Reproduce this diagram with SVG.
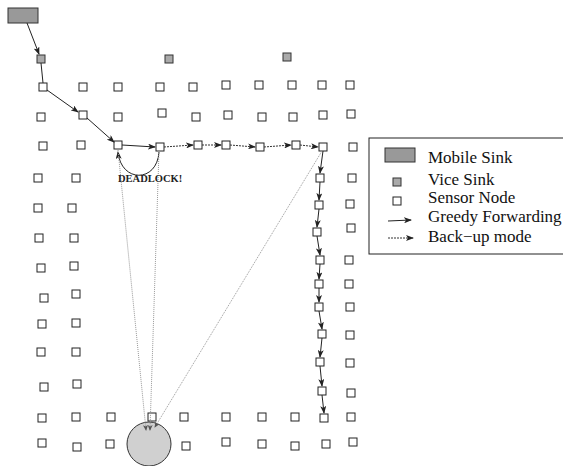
<svg xmlns="http://www.w3.org/2000/svg" width="563" height="466" viewBox="0 0 563 466">
<style>
.n{fill:#fff;stroke:#222;stroke-width:1}
.v{fill:#aaa;stroke:#333;stroke-width:1}
.g{stroke:#222;stroke-width:1;fill:none;marker-end:url(#ah)}
.b{stroke:#333;stroke-width:1;fill:none;stroke-dasharray:2 1;marker-end:url(#ah)}
.d{stroke:#999;stroke-width:1;fill:none;stroke-dasharray:1 1;marker-end:url(#ahs)}
.t{font-family:"Liberation Serif","Times New Roman",serif;font-size:17px;fill:#111}
</style>
<defs>
<marker id="ah" markerWidth="8" markerHeight="6" refX="7" refY="3" orient="auto" markerUnits="userSpaceOnUse">
<path d="M0,0 L8,3 L0,6 L2,3 z" fill="#222"/>
</marker>
<marker id="ahs" markerWidth="6" markerHeight="5" refX="5" refY="2.5" orient="auto" markerUnits="userSpaceOnUse">
<path d="M0,0 L6,2.5 L0,5 L1.5,2.5 z" fill="#555"/>
</marker>
<rect id="sq" x="-4" y="-4" width="8" height="8"/>
</defs>

<g id="mobile-sink"><rect x="8" y="8" width="30" height="15" fill="#999" stroke="#333" stroke-width="1"/></g>
<g id="mobile-sink-2"><circle cx="149" cy="444" r="22" fill="#d0d0d0" stroke="#333" stroke-width="1"/></g>

<g id="vice-sinks">
<use href="#sq" class="v" x="41" y="59"/>
<use href="#sq" class="v" x="169" y="59"/>
<use href="#sq" class="v" x="287" y="57"/>
</g>

<g id="sensor-nodes">
<use href="#sq" class="n" x="43" y="87"/><use href="#sq" class="n" x="83" y="87"/><use href="#sq" class="n" x="118" y="87"/><use href="#sq" class="n" x="160" y="87"/><use href="#sq" class="n" x="193" y="87"/><use href="#sq" class="n" x="226" y="85"/><use href="#sq" class="n" x="259" y="85"/><use href="#sq" class="n" x="292" y="85"/><use href="#sq" class="n" x="322" y="85"/><use href="#sq" class="n" x="350" y="85"/>
<use href="#sq" class="n" x="41" y="117"/><use href="#sq" class="n" x="83" y="115"/><use href="#sq" class="n" x="118" y="117"/><use href="#sq" class="n" x="162" y="113"/><use href="#sq" class="n" x="196" y="117"/><use href="#sq" class="n" x="228" y="115"/><use href="#sq" class="n" x="262" y="117"/><use href="#sq" class="n" x="293" y="117"/><use href="#sq" class="n" x="323" y="115"/><use href="#sq" class="n" x="351" y="114"/>
<use href="#sq" class="n" x="43" y="146"/><use href="#sq" class="n" x="81" y="145"/><use href="#sq" class="n" x="118" y="145"/><use href="#sq" class="n" x="160" y="147"/><use href="#sq" class="n" x="198" y="145"/><use href="#sq" class="n" x="226" y="145"/><use href="#sq" class="n" x="260" y="147"/><use href="#sq" class="n" x="296" y="145"/><use href="#sq" class="n" x="323" y="147"/><use href="#sq" class="n" x="353" y="147"/>
<use href="#sq" class="n" x="38" y="178"/><use href="#sq" class="n" x="76" y="178"/>
<use href="#sq" class="n" x="38" y="208"/><use href="#sq" class="n" x="72" y="208"/>
<use href="#sq" class="n" x="39" y="238"/><use href="#sq" class="n" x="74" y="238"/>
<use href="#sq" class="n" x="41" y="268"/><use href="#sq" class="n" x="74" y="266"/>
<use href="#sq" class="n" x="44" y="298"/><use href="#sq" class="n" x="76" y="294"/>
<use href="#sq" class="n" x="42" y="324"/><use href="#sq" class="n" x="76" y="323"/>
<use href="#sq" class="n" x="41" y="352"/><use href="#sq" class="n" x="76" y="352"/>
<use href="#sq" class="n" x="44" y="387"/><use href="#sq" class="n" x="77" y="384"/>
<use href="#sq" class="n" x="320" y="178"/><use href="#sq" class="n" x="352" y="178"/>
<use href="#sq" class="n" x="319" y="205"/><use href="#sq" class="n" x="350" y="204"/>
<use href="#sq" class="n" x="317" y="232"/><use href="#sq" class="n" x="351" y="228"/>
<use href="#sq" class="n" x="320" y="260"/><use href="#sq" class="n" x="349" y="260"/>
<use href="#sq" class="n" x="319" y="284"/><use href="#sq" class="n" x="349" y="284"/>
<use href="#sq" class="n" x="319" y="307"/><use href="#sq" class="n" x="350" y="307"/>
<use href="#sq" class="n" x="322" y="334"/><use href="#sq" class="n" x="350" y="335"/>
<use href="#sq" class="n" x="320" y="362"/><use href="#sq" class="n" x="350" y="363"/>
<use href="#sq" class="n" x="322" y="391"/><use href="#sq" class="n" x="351" y="393"/>
<use href="#sq" class="n" x="42" y="418"/><use href="#sq" class="n" x="76" y="417"/><use href="#sq" class="n" x="111" y="417"/><use href="#sq" class="n" x="152" y="417"/><use href="#sq" class="n" x="184" y="417"/><use href="#sq" class="n" x="226" y="417"/><use href="#sq" class="n" x="262" y="417"/><use href="#sq" class="n" x="295" y="417"/><use href="#sq" class="n" x="324" y="418"/><use href="#sq" class="n" x="351" y="417"/>
<use href="#sq" class="n" x="42" y="443"/><use href="#sq" class="n" x="77" y="447"/><use href="#sq" class="n" x="110" y="444"/><use href="#sq" class="n" x="186" y="446"/><use href="#sq" class="n" x="226" y="442"/><use href="#sq" class="n" x="262" y="444"/><use href="#sq" class="n" x="295" y="446"/><use href="#sq" class="n" x="326" y="444"/><use href="#sq" class="n" x="353" y="442"/>
</g>

<g id="connectors">
<line class="g" x1="27" y1="23" x2="39" y2="54"/>
<line x1="41" y1="63" x2="43" y2="83" stroke="#222" stroke-width="1"/>
<line class="g" x1="47" y1="90" x2="78" y2="112"/>
<line class="g" x1="87" y1="118" x2="114" y2="142"/>
<line class="g" x1="122" y1="145" x2="155" y2="147"/>
<line class="b" x1="164" y1="147" x2="193" y2="145"/>
<line class="b" x1="202" y1="145" x2="221" y2="145"/>
<line class="b" x1="230" y1="145" x2="255" y2="147"/>
<line class="b" x1="264" y1="147" x2="291" y2="145"/>
<line class="b" x1="300" y1="145" x2="318" y2="147"/>
<line class="g" x1="323" y1="151" x2="320" y2="173"/>
<line class="g" x1="320" y1="182" x2="319" y2="200"/>
<line class="g" x1="319" y1="209" x2="317" y2="227"/>
<line class="g" x1="317" y1="236" x2="320" y2="255"/>
<line class="g" x1="320" y1="264" x2="319" y2="279"/>
<line class="g" x1="319" y1="288" x2="319" y2="302"/>
<line class="g" x1="319" y1="311" x2="322" y2="329"/>
<line class="g" x1="322" y1="338" x2="320" y2="357"/>
<line class="g" x1="320" y1="366" x2="322" y2="386"/>
<line class="g" x1="322" y1="395" x2="324" y2="413"/>
<path class="g" d="M159,152 C157,183 121,183 118,152"/>
<line class="d" x1="118" y1="150" x2="146" y2="430"/>
<line class="d" x1="159" y1="151" x2="150" y2="430"/>
<line class="d" x1="322" y1="151" x2="155" y2="427"/>
</g>

<text x="118" y="182" font-family="Liberation Serif,'Times New Roman',serif" font-weight="bold" font-size="10.5" fill="#222">DEADLOCK!</text>

<g id="legend">
<rect x="369" y="138" width="210" height="116" fill="#fff" stroke="#222" stroke-width="1"/>
<rect x="385" y="148" width="30" height="14" fill="#999" stroke="#333" stroke-width="1"/>
<use href="#sq" class="v" x="397" y="182"/>
<use href="#sq" class="n" x="397" y="201"/>
<line class="g" x1="388" y1="221" x2="411" y2="220"/>
<line class="b" x1="388" y1="238" x2="413" y2="238"/>
<text class="t" x="428" y="163">Mobile Sink</text>
<text class="t" x="428" y="185">Vice Sink</text>
<text class="t" x="428" y="203">Sensor Node</text>
<text class="t" x="428" y="222">Greedy Forwarding</text>
<text class="t" x="428" y="242">Back−up mode</text>
</g>
</svg>
